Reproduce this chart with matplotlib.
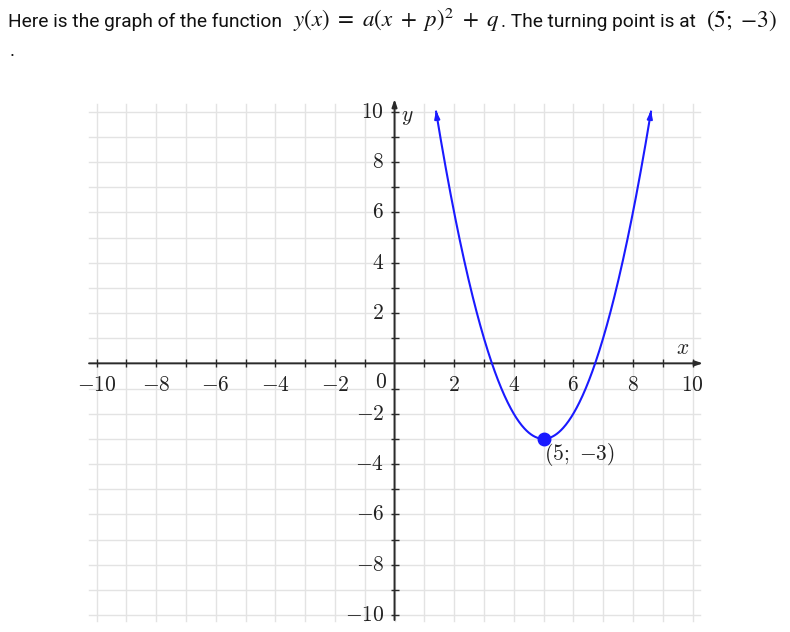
import numpy as np
import matplotlib
matplotlib.use('Agg')
import matplotlib.pyplot as plt

# === parameters of y = a(x+p)^2 + q ===
a = 1.0
p = -5.0
q = -3.0
turn_x = 5
turn_y = -3
y_top = 10          # curve drawn up to this height

ticks = [-10, -8, -6, -4, -2, 2, 4, 6, 8, 10]
point_txt = r'$(5;\ {-3})$'

GRID = '#e3e3e3'
AXC = '#2a2a2a'
BLUE = '#1a1aff'
W, H = 790, 632

fig = plt.figure(figsize=(7.9, 6.32), dpi=100)
ax = fig.add_axes([0.1033, 0.00696, 0.7922, 0.8482])
ax.set_xlim(-10.5, 10.5)
ax.set_ylim(-10.5, 10.8)
ax.axis('off')

# grid 1x1
G = 10.25
for v in range(-10, 11):
    ax.plot([v, v], [-G, G + 0.05], color=GRID, lw=1.0, zorder=0)
    ax.plot([-G, G], [v, v], color=GRID, lw=1.0, zorder=0)

# axes with arrows
ax.annotate('', xy=(10.35, 0), xytext=(-10.25, 0),
            arrowprops=dict(arrowstyle='-|>,head_length=0.45,head_width=0.15',
                            color=AXC, lw=1.4, shrinkA=0, shrinkB=0))
ax.annotate('', xy=(0, 10.5), xytext=(0, -10.2),
            arrowprops=dict(arrowstyle='-|>,head_length=0.45,head_width=0.15',
                            color=AXC, lw=1.4, shrinkA=0, shrinkB=0))

# tick crosses
ints = [v for v in range(-10, 11) if v != 0]
ax.plot(ints, [0] * len(ints), ls='none', marker='|', ms=6, mew=1.0, color=AXC)
ax.plot([0] * len(ints), ints, ls='none', marker='_', ms=6, mew=1.0, color=AXC)

fs = 15.5
for t in ticks:
    ax.text(t, -0.85, r'$%d$' % t, ha='center', va='center', fontsize=fs,
            math_fontfamily='cm', color='#222222')
    ax.text(-0.35, t, r'$%d$' % t, ha='right', va='center', fontsize=fs,
            math_fontfamily='cm', color='#222222')
ax.text(-0.45, -0.75, r'$0$', ha='center', va='center', fontsize=fs,
        math_fontfamily='cm', color='#222222')
ax.text(9.68, 0.6, r'$x$', ha='center', va='center', fontsize=fs,
        math_fontfamily='cm', color='#222222')
ax.text(0.42, 9.78, r'$y$', ha='center', va='center', fontsize=fs,
        math_fontfamily='cm', color='#222222')

# parabola
half = np.sqrt((y_top - q) / a)
x0, x1 = -p - half, -p + half
xs = np.linspace(x0, x1, 400)
ys = a * (xs + p) ** 2 + q
ax.plot(xs, ys, color=BLUE, lw=1.5, zorder=3)
for xe, xb in [(x0, x0 + 0.02), (x1, x1 - 0.02)]:
    yb = a * (xb + p) ** 2 + q
    ax.annotate('', xy=(xe, y_top + 0.05), xytext=(xb, yb),
                arrowprops=dict(arrowstyle='-|>,head_length=0.45,head_width=0.15',
                                color=BLUE, lw=1.5, shrinkA=0, shrinkB=0))

ax.plot([turn_x], [turn_y], 'o', color=BLUE, ms=9, zorder=4)
ax.text(turn_x + 0.02, turn_y - 0.1, point_txt, ha='left', va='top',
        fontsize=fs, math_fontfamily='cm', color='#222222')

# heading text, put together from pieces (pixel x positions)
base = 1 - 27 / H
pieces = [
    (8, 'Here is the graph of the function', 13.8, False),
    (293, r'$y(x)\ =\ a(x\ +\ p)^2\ +\ q$', 16.5, True),
    (501, '. The turning point is at', 13.8, False),
    (706, r'$(5;\ {-3})$', 16.8, True),
]
for px, s, size, is_math in pieces:
    kw = dict(math_fontfamily='stix') if is_math else dict(family='Roboto')
    fig.text(px / W, base, s, ha='left', va='baseline', fontsize=size,
             color='#111111', **kw)
fig.text(10 / W, 1 - 56 / H, '.', ha='left', va='baseline', fontsize=13.8,
         family='Roboto', color='#111111')

fig.savefig('out.png', dpi=100)
